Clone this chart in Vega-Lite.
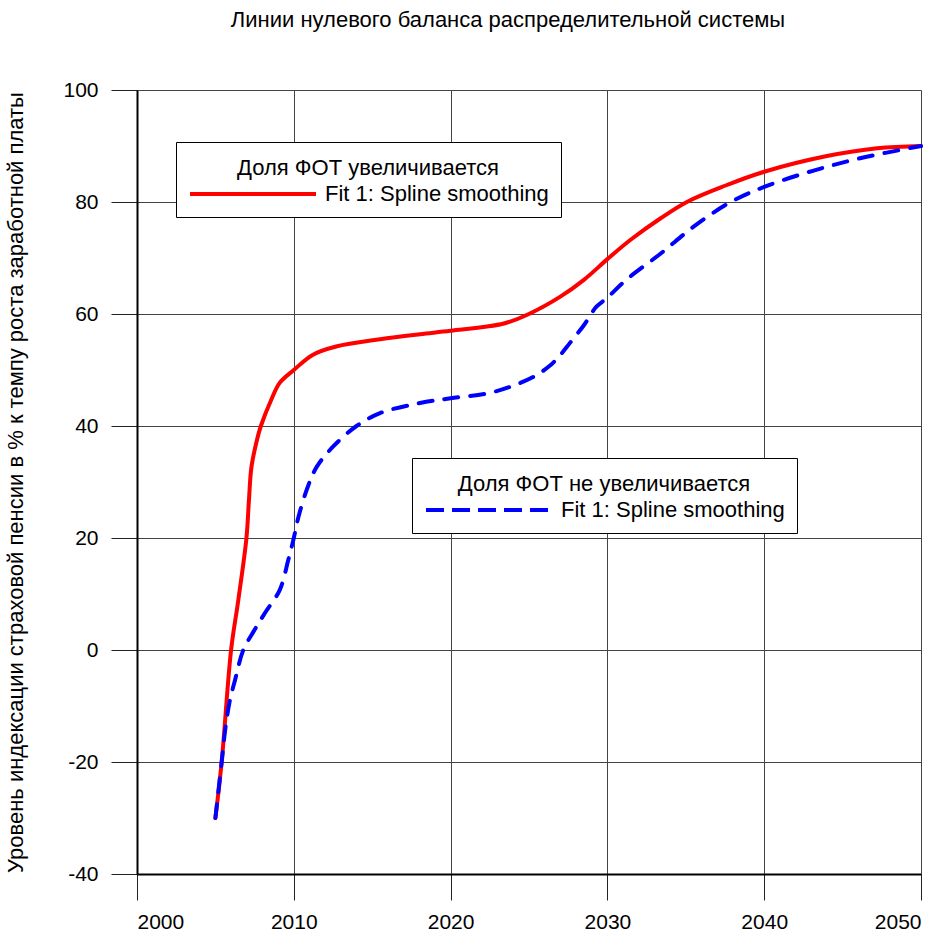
{
  "$schema": "https://vega.github.io/schema/vega-lite/v6.json",
  "width": 784,
  "height": 784,
  "autosize": {"type": "none"},
  "padding": {"left": 137, "top": 90, "right": 26, "bottom": 61},
  "background": "white",
  "title": {
    "text": "Линии нулевого баланса распределительной системы",
    "font": "Liberation Sans",
    "fontSize": 22,
    "fontWeight": "normal",
    "color": "black",
    "frame": "group",
    "anchor": "middle",
    "offset": 47,
    "dx": -21
  },
  "config": {
    "view": {"stroke": null},
    "axis": {
      "labelFont": "Liberation Sans",
      "labelFontSize": 21,
      "labelColor": "black",
      "titleFont": "Liberation Sans",
      "titleFontSize": 22,
      "titleFontWeight": "normal",
      "titleColor": "black",
      "grid": true,
      "gridColor": "#444444",
      "gridWidth": 1,
      "tickColor": "#222222",
      "tickSize": 26,
      "tickWidth": 1,
      "domainColor": "black",
      "domainWidth": 2
    },
    "legend": {
      "labelFont": "Liberation Sans",
      "labelFontSize": 22,
      "labelColor": "black",
      "titleFont": "Liberation Sans",
      "titleFontSize": 22,
      "titleFontWeight": "normal",
      "titleColor": "black",
      "titleAnchor": "middle",
      "titleBaseline": "line-top",
      "titleLineHeight": 30,
      "titleLimit": 600,
      "labelLimit": 600,
      "titlePadding": -47,
      "fillColor": "white",
      "strokeColor": "black",
      "padding": 12,
      "symbolType": "stroke",
      "symbolSize": 15876,
      "symbolStrokeWidth": 4,
      "labelOffset": 7,
      "orient": "none"
    }
  },
  "data": {
    "values": [
      {"year": 2005, "value": -30, "group": "up", "fit": "Fit 1: Spline smoothing"},
      {"year": 2005.4, "value": -20, "group": "up", "fit": "Fit 1: Spline smoothing"},
      {"year": 2006.0, "value": 0, "group": "up", "fit": "Fit 1: Spline smoothing"},
      {"year": 2006.46, "value": 8.9, "group": "up", "fit": "Fit 1: Spline smoothing"},
      {"year": 2006.98, "value": 20, "group": "up", "fit": "Fit 1: Spline smoothing"},
      {"year": 2007.14, "value": 26.8, "group": "up", "fit": "Fit 1: Spline smoothing"},
      {"year": 2007.3, "value": 32.7, "group": "up", "fit": "Fit 1: Spline smoothing"},
      {"year": 2007.65, "value": 37.5, "group": "up", "fit": "Fit 1: Spline smoothing"},
      {"year": 2007.9, "value": 40, "group": "up", "fit": "Fit 1: Spline smoothing"},
      {"year": 2008.55, "value": 44.6, "group": "up", "fit": "Fit 1: Spline smoothing"},
      {"year": 2009.1, "value": 47.7, "group": "up", "fit": "Fit 1: Spline smoothing"},
      {"year": 2010, "value": 50, "group": "up", "fit": "Fit 1: Spline smoothing"},
      {"year": 2011.2, "value": 52.7, "group": "up", "fit": "Fit 1: Spline smoothing"},
      {"year": 2012.7, "value": 54.2, "group": "up", "fit": "Fit 1: Spline smoothing"},
      {"year": 2015.5, "value": 55.5, "group": "up", "fit": "Fit 1: Spline smoothing"},
      {"year": 2018.05, "value": 56.4, "group": "up", "fit": "Fit 1: Spline smoothing"},
      {"year": 2020, "value": 57.0, "group": "up", "fit": "Fit 1: Spline smoothing"},
      {"year": 2023.4, "value": 58.3, "group": "up", "fit": "Fit 1: Spline smoothing"},
      {"year": 2025.06, "value": 60.1, "group": "up", "fit": "Fit 1: Spline smoothing"},
      {"year": 2027, "value": 63.1, "group": "up", "fit": "Fit 1: Spline smoothing"},
      {"year": 2028.5, "value": 66.1, "group": "up", "fit": "Fit 1: Spline smoothing"},
      {"year": 2030, "value": 69.8, "group": "up", "fit": "Fit 1: Spline smoothing"},
      {"year": 2031.5, "value": 73.3, "group": "up", "fit": "Fit 1: Spline smoothing"},
      {"year": 2033.4, "value": 77.1, "group": "up", "fit": "Fit 1: Spline smoothing"},
      {"year": 2035.1, "value": 80.05, "group": "up", "fit": "Fit 1: Spline smoothing"},
      {"year": 2037.5, "value": 82.9, "group": "up", "fit": "Fit 1: Spline smoothing"},
      {"year": 2040, "value": 85.4, "group": "up", "fit": "Fit 1: Spline smoothing"},
      {"year": 2044, "value": 88.2, "group": "up", "fit": "Fit 1: Spline smoothing"},
      {"year": 2047.2, "value": 89.6, "group": "up", "fit": "Fit 1: Spline smoothing"},
      {"year": 2050, "value": 90, "group": "up", "fit": "Fit 1: Spline smoothing"},
      {"year": 2005, "value": -30, "group": "flat", "fit": "Fit 1: Spline smoothing"},
      {"year": 2005.4, "value": -20, "group": "flat", "fit": "Fit 1: Spline smoothing"},
      {"year": 2005.65, "value": -13.7, "group": "flat", "fit": "Fit 1: Spline smoothing"},
      {"year": 2005.93, "value": -8.9, "group": "flat", "fit": "Fit 1: Spline smoothing"},
      {"year": 2006.25, "value": -5.4, "group": "flat", "fit": "Fit 1: Spline smoothing"},
      {"year": 2006.78, "value": 0, "group": "flat", "fit": "Fit 1: Spline smoothing"},
      {"year": 2007.5, "value": 3.6, "group": "flat", "fit": "Fit 1: Spline smoothing"},
      {"year": 2008.16, "value": 6.6, "group": "flat", "fit": "Fit 1: Spline smoothing"},
      {"year": 2009.1, "value": 10.7, "group": "flat", "fit": "Fit 1: Spline smoothing"},
      {"year": 2009.65, "value": 16.1, "group": "flat", "fit": "Fit 1: Spline smoothing"},
      {"year": 2010, "value": 20, "group": "flat", "fit": "Fit 1: Spline smoothing"},
      {"year": 2010.3, "value": 23.8, "group": "flat", "fit": "Fit 1: Spline smoothing"},
      {"year": 2010.9, "value": 29.2, "group": "flat", "fit": "Fit 1: Spline smoothing"},
      {"year": 2011.46, "value": 32.7, "group": "flat", "fit": "Fit 1: Spline smoothing"},
      {"year": 2012.5, "value": 36.3, "group": "flat", "fit": "Fit 1: Spline smoothing"},
      {"year": 2014, "value": 40, "group": "flat", "fit": "Fit 1: Spline smoothing"},
      {"year": 2015.5, "value": 42.3, "group": "flat", "fit": "Fit 1: Spline smoothing"},
      {"year": 2018.05, "value": 44.1, "group": "flat", "fit": "Fit 1: Spline smoothing"},
      {"year": 2020, "value": 44.95, "group": "flat", "fit": "Fit 1: Spline smoothing"},
      {"year": 2022.3, "value": 45.8, "group": "flat", "fit": "Fit 1: Spline smoothing"},
      {"year": 2023.8, "value": 47.0, "group": "flat", "fit": "Fit 1: Spline smoothing"},
      {"year": 2025.3, "value": 48.8, "group": "flat", "fit": "Fit 1: Spline smoothing"},
      {"year": 2026.3, "value": 50.7, "group": "flat", "fit": "Fit 1: Spline smoothing"},
      {"year": 2027, "value": 52.7, "group": "flat", "fit": "Fit 1: Spline smoothing"},
      {"year": 2027.6, "value": 54.8, "group": "flat", "fit": "Fit 1: Spline smoothing"},
      {"year": 2028.5, "value": 58.0, "group": "flat", "fit": "Fit 1: Spline smoothing"},
      {"year": 2029.3, "value": 61.3, "group": "flat", "fit": "Fit 1: Spline smoothing"},
      {"year": 2029.95, "value": 62.8, "group": "flat", "fit": "Fit 1: Spline smoothing"},
      {"year": 2031.2, "value": 66.1, "group": "flat", "fit": "Fit 1: Spline smoothing"},
      {"year": 2033.4, "value": 70.8, "group": "flat", "fit": "Fit 1: Spline smoothing"},
      {"year": 2035.5, "value": 75.6, "group": "flat", "fit": "Fit 1: Spline smoothing"},
      {"year": 2037.8, "value": 79.9, "group": "flat", "fit": "Fit 1: Spline smoothing"},
      {"year": 2040, "value": 82.7, "group": "flat", "fit": "Fit 1: Spline smoothing"},
      {"year": 2042.9, "value": 85.4, "group": "flat", "fit": "Fit 1: Spline smoothing"},
      {"year": 2046.1, "value": 87.8, "group": "flat", "fit": "Fit 1: Spline smoothing"},
      {"year": 2050, "value": 90, "group": "flat", "fit": "Fit 1: Spline smoothing"}
    ]
  },
  "encoding": {
    "x": {
      "field": "year",
      "type": "quantitative",
      "scale": {"domain": [2000, 2050], "nice": false, "zero": false},
      "axis": {
        "values": [2000, 2010, 2020, 2030, 2040, 2050],
        "format": "d",
        "title": null,
        "labelPadding": 11
      }
    },
    "y": {
      "field": "value",
      "type": "quantitative",
      "scale": {"domain": [-40, 100], "nice": false, "zero": false},
      "axis": {
        "values": [-40, -20, 0, 20, 40, 60, 80, 100],
        "labelExpr": "datum.value < 0 ? '-' + abs(datum.value) : '' + datum.value",
        "title": "Уровень индексации страховой пенсии в % к темпу роста заработной платы",
        "labelPadding": 13,
        "titleX": -110,
        "titleY": 392
      }
    }
  },
  "layer": [
    {
      "transform": [{"filter": "datum.group === 'up'"}],
      "mark": {"type": "line", "strokeWidth": 4, "strokeCap": "round", "interpolate": "catmull-rom"},
      "encoding": {
        "color": {
          "field": "fit",
          "type": "nominal",
          "scale": {"domain": ["Fit 1: Spline smoothing"], "range": ["#ff0000"]},
          "legend": {"title": "Доля ФОТ увеличивается", "legendX": 39, "legendY": 52}
        }
      }
    },
    {
      "transform": [{"filter": "datum.group === 'flat'"}],
      "mark": {"type": "line", "strokeWidth": 4, "strokeCap": "round", "strokeDash": [14, 12], "interpolate": "catmull-rom"},
      "encoding": {
        "color": {
          "field": "fit",
          "type": "nominal",
          "scale": {"domain": ["Fit 1: Spline smoothing"], "range": ["#0000ff"]},
          "legend": {"title": "Доля ФОТ не увеличивается", "legendX": 275, "legendY": 368, "symbolDash": [18, 8]}
        }
      }
    }
  ],
  "resolve": {"scale": {"color": "independent"}, "legend": {"color": "independent"}}
}
